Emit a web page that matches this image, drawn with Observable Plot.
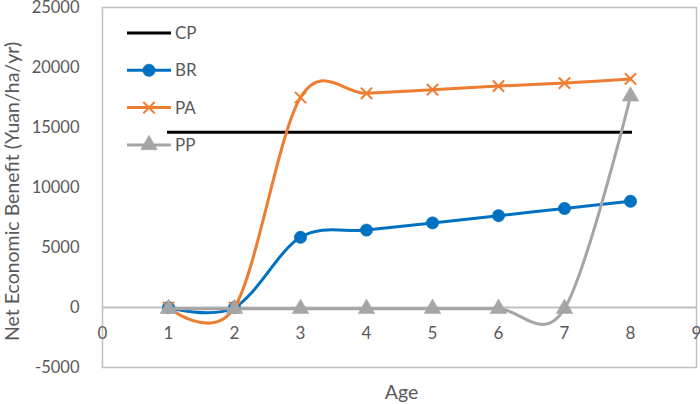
<!DOCTYPE html>
<html>
<head>
<meta charset="utf-8">
<script src="https://cdn.jsdelivr.net/npm/d3@7"></script>
<script src="https://cdn.jsdelivr.net/npm/@observablehq/plot@0.6"></script>
<style>
  html, body { margin: 0; padding: 0; background: #fff; }
  #wrap { position: relative; width: 700px; height: 404px; }
  #wrap svg { display: block; }
  #legend { position: absolute; left: 0; top: 0; pointer-events: none; }
</style>
</head>
<body>
<div id="wrap"></div>
<script>
// ---- data ----
const ages = [1, 2, 3, 4, 5, 6, 7, 8];
const seriesNames = ["CP", "BR", "PA", "PP"];
const cpValues = [14600, 14600, 14600, 14600, 14600, 14600, 14600, 14600];
const brValues = [0, 0, 5850, 6450, 7050, 7650, 8250, 8850];
const paValues = [0, 0, 17500, 17850, 18150, 18450, 18700, 19050];
const ppValues = [-100, -100, -100, -100, -100, -100, -100, 17600];
const xTicks = [0, 1, 2, 3, 4, 5, 6, 7, 8, 9];
const yTicks = [-5000, 0, 5000, 10000, 15000, 20000, 25000];
const xTitle = "Age";
const yTitle = "Net Economic Benefit (Yuan/ha/yr)";

// ---- styles ----
const colors = {CP: "#000000", BR: "#0070C0", PA: "#ED7D31", PP: "#A5A5A5"};
const symbols = {CP: null, BR: "circle", PA: "times", PP: "triangle"};
const radius = {CP: 0, BR: 6.2, PA: 5.2, PP: 6.2};
const textColor = "#595959";
const gridColor = "#BFBFBF";
const font = "Lato, 'Open Sans', sans-serif";

const valuesBy = {CP: cpValues, BR: brValues, PA: paValues, PP: ppValues};
const table = seriesNames.map(s => ages.map((a, i) => ({series: s, age: a, value: valuesBy[s][i]})));

const lineMarks = [];
for (const rows of table) {
  const s = rows[0].series;
  lineMarks.push(Plot.line(rows, {
    x: "age", y: "value", stroke: colors[s], strokeWidth: 3,
    curve: "cardinal", tension: 0, strokeLinejoin: "round", strokeLinecap: s === "CP" ? "square" : "round"
  }));
  if (symbols[s]) {
    const isStroke = symbols[s] === "times";
    lineMarks.push(Plot.dot(rows, {
      x: "age", y: "value", symbol: symbols[s], r: radius[s],
      fill: isStroke ? "none" : colors[s],
      stroke: colors[s], strokeWidth: isStroke ? 2 : 0.5
    }));
  }
}

const chart = Plot.plot({
  width: 700,
  height: 404,
  marginLeft: 102,
  marginRight: 4,
  marginTop: 7,
  marginBottom: 37,
  style: {fontFamily: font, background: "#fff", overflow: "visible"},
  x: {domain: [0, 9], axis: null},
  y: {domain: [-5000, 25000], axis: null},
  marks: [
    Plot.frame({stroke: gridColor, strokeWidth: 1.5}),
    Plot.ruleY([0], {stroke: gridColor, strokeWidth: 2}),
    Plot.text(yTicks, {frameAnchor: "left", y: d => d, text: d => String(d), dx: -23, dy: 0.5,
      textAnchor: "end", lineAnchor: "middle", fill: textColor, fontSize: 16.5}),
    Plot.text(xTicks, {x: d => d, y: () => 0, text: d => String(d), dy: 26,
      textAnchor: "middle", lineAnchor: "middle", fill: textColor, fontSize: 17}),
    Plot.text([yTitle], {frameAnchor: "left", text: d => d, rotate: -90, dx: -90, dy: 4,
      textAnchor: "middle", lineAnchor: "middle", fill: textColor, fontSize: 19.5}),
    Plot.text([xTitle], {frameAnchor: "bottom", text: d => d, dy: 25, dx: 2,
      textAnchor: "middle", lineAnchor: "middle", fill: textColor, fontSize: 19.5}),
    ...lineMarks
  ]
});

const wrap = document.getElementById("wrap");
wrap.appendChild(chart);

// ---- legend overlay (upper left inside plot) ----
const legend = d3.select(wrap).append("svg")
  .attr("id", "legend").attr("width", 700).attr("height", 404)
  .style("font-family", font);
const legX0 = 127, legX1 = 171, legY0 = 33, legStep = 37.3;
const symMap = {circle: d3.symbolCircle, times: d3.symbolTimes, triangle: d3.symbolTriangle};
seriesNames.forEach((s, i) => {
  const g = legend.append("g").attr("transform", `translate(0,${legY0 + i * legStep})`);
  g.append("line").attr("x1", legX0).attr("x2", legX1).attr("y1", 0).attr("y2", 0)
    .attr("stroke", colors[s]).attr("stroke-width", 3);
  if (symbols[s]) {
    const isStroke = symbols[s] === "times";
    g.append("path")
      .attr("transform", `translate(${(legX0 + legX1) / 2},0)`)
      .attr("d", d3.symbol(symMap[symbols[s]], Math.PI * radius[s] * radius[s])())
      .attr("fill", isStroke ? "none" : colors[s])
      .attr("stroke", colors[s]).attr("stroke-width", isStroke ? 2 : 0.5);
  }
  g.append("text").attr("x", legX1 + 4).attr("y", 0).attr("dy", "0.35em")
    .attr("fill", textColor).attr("font-size", 17).text(s);
});
</script>
</body>
</html>
